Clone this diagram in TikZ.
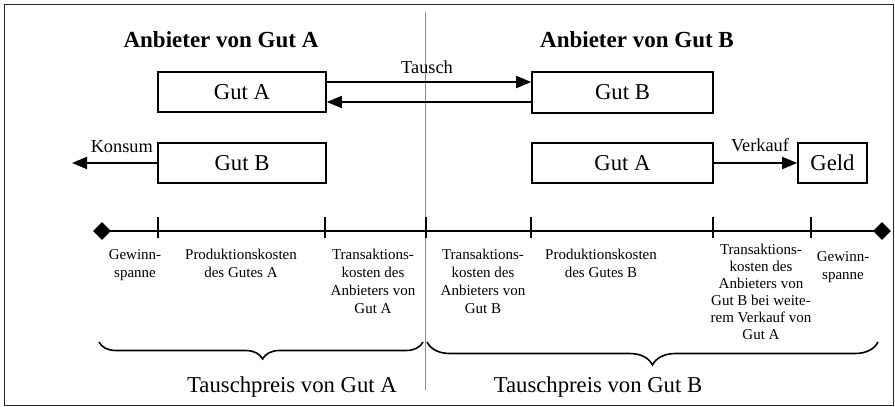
\documentclass[tikz,border=0pt]{standalone}
\usepackage{fontspec}
\setmainfont{Liberation Serif}
\usetikzlibrary{arrows.meta,shapes.geometric,decorations.pathreplacing}
\begin{document}
\begin{tikzpicture}[x=1pt,y=-1pt,
  box/.style={draw,line width=1.6pt,inner sep=0pt,font=\fontsize{22.7}{26}\selectfont},
  title/.style={font=\fontsize{23}{27}\selectfont\bfseries,anchor=base,inner sep=0pt},
  small/.style={font=\fontsize{18.3}{21}\selectfont,inner sep=0pt},
  arr/.style={line width=1.8pt,-{Triangle[length=15pt,width=12pt]}},
  axisline/.style={line width=1.8pt},
  tick/.style={line width=1.4pt},
  lbl/.style={font=\fontsize{15}{18}\selectfont,align=center,anchor=north,inner sep=0pt},
  lbltight/.style={font=\fontsize{15}{17}\selectfont,align=center,anchor=north,inner sep=0pt},
  price/.style={font=\fontsize{22.7}{26}\selectfont,anchor=base,inner sep=0pt},
  brc/.style={decorate,line width=1.6pt},
  endmark/.style={diamond,fill=black,inner sep=0pt,minimum size=18pt}]
\useasboundingbox (0,0) rectangle (895,407);
\draw[line width=1.5pt,black!85] (4.5,4.5) rectangle (893.5,405.5);
% divider
\coordinate (dtop) at (425,12);
\coordinate (dbot) at (425,390);
\draw[black!45,line width=0.8pt] (dtop) -- (dbot);
% titles
\node[title] (ta) at (221,47) {Anbieter von Gut A};
\node[title] (tb) at (637,47) {Anbieter von Gut B};
% boxes
\node[box,minimum width=168pt,minimum height=40pt] (ga1) at (242,92) {Gut A};
\node[box,minimum width=168pt,minimum height=40pt] (gb1) at (242,163) {Gut B};
\node[box,minimum width=181pt,minimum height=41pt] (gb2) at (622.5,92.5) {Gut B};
\node[box,minimum width=181pt,minimum height=40pt] (ga2) at (622.5,163) {Gut A};
\node[box,minimum width=69pt,minimum height=40pt] (geld) at (832.5,163) {Geld};
% Tausch arrows
\draw[arr] ([yshift=10pt]ga1.east) -- ([yshift=10pt]ga1.east -| gb2.west);
\draw[arr] ([yshift=-10pt]ga1.east -| gb2.west) -- ([yshift=-10pt]ga1.east);
\node[small,anchor=base] (tausch) at (427,73) {Tausch};
% Konsum
\coordinate (kend) at (72,163);
\draw[arr] (gb1.west) -- (kend);
\node[small,anchor=base east] (konsum) at (153,152) {Konsum};
% Verkauf
\draw[arr] (ga2.east) -- (geld.west);
\node[small,anchor=base] (verkauf) at (760,151) {Verkauf};
% axis
\node[endmark] (dl) at (102,231) {};
\node[endmark] (dr) at (882,231) {};
\draw[axisline] (dl.center) -- (dr.center);
\foreach \xx in {158,325,426,531,713,811}
  \draw[tick] (\xx,217) -- (\xx,238);
% labels
\node[lbl] (l1) at (135,249) {Gewinn-\\spanne};
\node[lbl] (l2) at (241,249) {Produktionskosten\\des Gutes A};
\node[lbl] (l3) at (373,249) {Transaktions-\\kosten des\\Anbieters von\\Gut A};
\node[lbl] (l4) at (483,249) {Transaktions-\\kosten des\\Anbieters von\\Gut B};
\node[lbl] (l5) at (601,249) {Produktionskosten\\des Gutes B};
\node[lbltight] (l6) at (761,244) {Transaktions-\\kosten des\\Anbieters von\\Gut B bei weite-\\rem Verkauf von\\Gut A};
\node[lbl] (l7) at (843,251) {Gewinn-\\spanne};
% braces
\coordinate (b1l) at (99,342);
\coordinate (b1r) at (423,342);
\coordinate (b2l) at (427,342);
\coordinate (b2r) at (878,342);
\draw[brc,decoration={brace,mirror,amplitude=17pt,aspect=0.505}] (b1l) -- (b1r);
\draw[brc,decoration={brace,mirror,amplitude=23pt,aspect=0.5}] (b2l) -- (b2r);
\node[price] (pa) at (292,392) {Tauschpreis von Gut A};
\node[price] (pb) at (598,392) {Tauschpreis von Gut B};
\end{tikzpicture}
\end{document}
